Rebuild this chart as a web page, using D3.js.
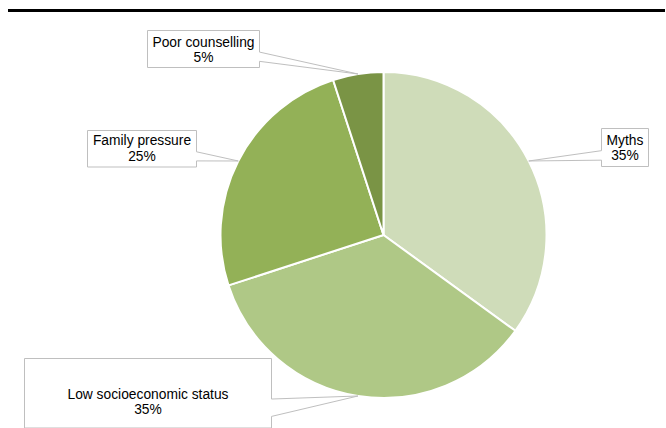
<!DOCTYPE html>
<html>
<head>
<meta charset="utf-8">
<script src="https://cdn.jsdelivr.net/npm/d3@7"></script>
<style>
  html, body { margin: 0; padding: 0; background: #fff; }
  svg { display: block; }
  text { font-family: "Liberation Sans", Arial, Helvetica, sans-serif; font-size: 13.8px; fill: #000; }
</style>
</head>
<body>
<svg id="chart" width="666" height="428"></svg>
<script>
// Reasons and their shares (%)
const categories = ["Myths", "Low socioeconomic status", "Family pressure", "Poor counselling"];
const values = [35, 35, 25, 5];
const colors = ["#cfdcb9", "#afc886", "#93b157", "#7a9445"];

// Callout boxes for the data labels (box rectangle, text baseline offset, wedge side)
const callouts = {
  "Myths":                    { x: 601.5, y: 128.5, w: 47,  h: 38,   ty: 16.5, side: "left" },
  "Low socioeconomic status": { x: 24.5,  y: 358.5, w: 247, h: 69.5, ty: 40.5, side: "right" },
  "Family pressure":          { x: 87.5,  y: 130.5, w: 109, h: 36.5, ty: 14.8, side: "right" },
  "Poor counselling":         { x: 147.5, y: 30.5,  w: 112, h: 37,   ty: 16.3, side: "right" }
};

const W = 666, H = 428;
const cx = 383.5, cy = 235, R = 163;
const svg = d3.select("#chart");

// Rule across the top
svg.append("line")
  .attr("x1", 8).attr("x2", 665)
  .attr("y1", 10.5).attr("y2", 10.5)
  .attr("stroke", "#000").attr("stroke-width", 3.2);

const data = categories.map((c, i) => ({ name: c, value: values[i], color: colors[i] }));

const pie = d3.pie().value(d => d.value).sort(null)
  .startAngle(0).endAngle(2 * Math.PI);
const arcs = pie(data);
const arc = d3.arc().innerRadius(0).outerRadius(R);
const edge = d3.arc().innerRadius(R).outerRadius(R);

const g = svg.append("g").attr("transform", `translate(${cx},${cy})`);
g.selectAll("path.slice")
  .data(arcs)
  .join("path")
  .attr("class", "slice")
  .attr("d", arc)
  .attr("fill", d => d.data.color)
  .attr("stroke", "#fff")
  .attr("stroke-width", 2)
  .attr("stroke-linejoin", "round");

// Wedge callouts: rectangle with a pointer ending on the slice's outer edge
function calloutPath(b, tx, ty) {
  const y1 = b.y + b.h * 7 / 12, y2 = b.y + b.h * 10 / 12;
  if (b.side === "right") {
    return `M${b.x},${b.y}H${b.x + b.w}V${y1}L${tx},${ty}L${b.x + b.w},${y2}V${b.y + b.h}H${b.x}Z`;
  }
  return `M${b.x},${b.y}H${b.x + b.w}V${b.y + b.h}H${b.x}V${y2}L${tx},${ty}L${b.x},${y1}Z`;
}

const labels = svg.append("g");
arcs.forEach(a => {
  const b = callouts[a.data.name];
  const [ex, ey] = edge.centroid(a);
  const tx = cx + ex, ty = cy + ey;
  labels.append("path")
    .attr("d", calloutPath(b, tx, ty))
    .attr("fill", "#fff")
    .attr("stroke", "#bfbfbf")
    .attr("stroke-width", 1);
  const t = labels.append("text")
    .attr("text-anchor", "middle")
    .attr("x", b.x + b.w / 2)
    .attr("y", b.y + b.ty);
  t.append("tspan").attr("x", b.x + b.w / 2).text(a.data.name);
  t.append("tspan").attr("x", b.x + b.w / 2).attr("dy", 15.2).text(a.data.value + "%");
});
</script>
</body>
</html>
